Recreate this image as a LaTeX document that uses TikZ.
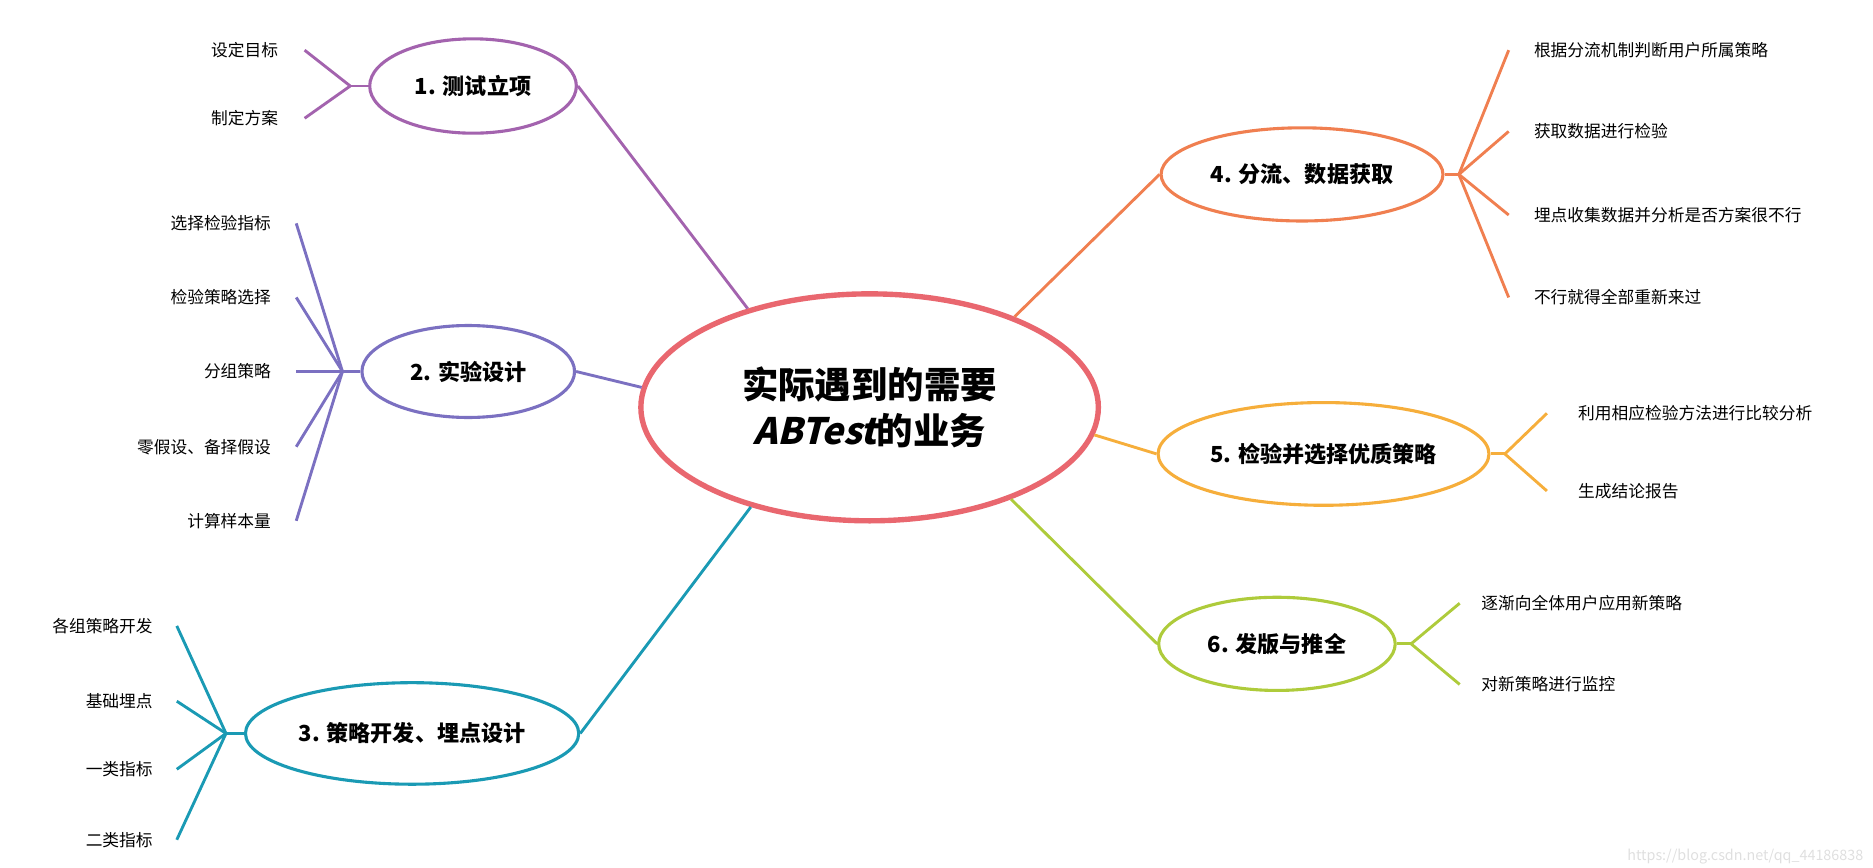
\documentclass[tikz,border=0pt]{standalone}
\usepackage{fontspec}
\setmainfont{Noto Sans CJK SC}
\newfontfamily\slantfont{Noto Sans CJK SC}[FakeSlant=0.25]
\usetikzlibrary{shapes.geometric}

\definecolor{rootred}{HTML}{E9676F}
\definecolor{cpurple}{HTML}{A363AE}
\definecolor{cviolet}{HTML}{7B70C1}
\definecolor{cteal}{HTML}{1A9AB4}
\definecolor{corange}{HTML}{F07F50}
\definecolor{cyellow}{HTML}{F6AE3B}
\definecolor{cgreen}{HTML}{AECB3B}

\tikzset{
  topic/.style={ellipse, draw=#1, line width=2.6pt, fill=white, inner sep=0pt,
    font=\bfseries\fontsize{18.5}{22}\selectfont},
  leaf/.style={inner sep=0pt, font=\fontsize{14}{16}\selectfont},
  branch/.style={draw=#1, line width=2.4pt},
}

\begin{document}
\begin{tikzpicture}[x=1pt,y=-1pt]
  \useasboundingbox (0,0) rectangle (1568,726);

  % centre topic
  \node[ellipse, draw=rootred, line width=4.5pt, fill=white, inner sep=0pt,
    minimum width=383pt, minimum height=190pt, align=center,
    font=\bfseries\fontsize{30.5}{39}\selectfont] (root) at (728,341)
    {实际遇到的需要\\{\slantfont ABTest}的业务};

  % main topics
  \node[topic=cpurple, minimum width=173pt, minimum height=79pt] (t1) at (396,72) {1. 测试立项};
  \node[topic=cviolet, minimum width=178pt, minimum height=77pt] (t2) at (392,311) {2. 实验设计};
  \node[topic=cteal, minimum width=279pt, minimum height=85pt] (t3) at (345,614) {3. 策略开发、埋点设计};
  \node[topic=corange, minimum width=236pt, minimum height=78pt] (t4) at (1090,146) {4. 分流、数据获取};
  \node[topic=cyellow, minimum width=277pt, minimum height=86pt] (t5) at (1108,380) {5. 检验并选择优质策略};
  \node[topic=cgreen, minimum width=198pt, minimum height=78pt] (t6) at (1069,539) {6. 发版与推全};

  % links to the centre
  \draw[branch=cpurple] (t1.east) -- (root.141);
  \draw[branch=cviolet] (t2.east) -- (root.175);
  \draw[branch=cteal] (t3.east) -- (root.220);
  \draw[branch=corange] (root.32) -- (t4.west);
  \draw[branch=cyellow] (root.-7.5) -- (t5.west);
  \draw[branch=cgreen] (root.-33.5) -- (t6.west);

  % hubs
  \draw[branch=cpurple] (t1.west) -- ++(-15,0) coordinate (h1);
  \draw[branch=cviolet] (t2.west) -- ++(-15,0) coordinate (h2);
  \draw[branch=cteal] (t3.west) -- ++(-15,0) coordinate (h3);
  \draw[branch=corange] (t4.east) -- ++(12,0) coordinate (h4);
  \draw[branch=cyellow] (t5.east) -- ++(12,0) coordinate (h5);
  \draw[branch=cgreen] (t6.east) -- ++(12,0) coordinate (h6);

  % leaves on the left
  \foreach \y/\txt [count=\i] in {42/设定目标, 99/制定方案} {
    \node[leaf, anchor=east] (a\i) at (233,\y) {\txt};
    \draw[branch=cpurple] (h1) -- ([xshift=22pt]a\i.east);
  }
  \foreach \y/\txt [count=\i] in {187/选择检验指标, 249/检验策略选择, 311/分组策略,
      374/零假设、备择假设, 436/计算样本量} {
    \node[leaf, anchor=east] (b\i) at (227,\y) {\txt};
    \draw[branch=cviolet] (h2) -- ([xshift=21pt]b\i.east);
  }
  \foreach \y/\txt [count=\i] in {524/各组策略开发, 587/基础埋点, 644/一类指标, 703/二类指标} {
    \node[leaf, anchor=east] (c\i) at (128,\y) {\txt};
    \draw[branch=cteal] (h3) -- ([xshift=20pt]c\i.east);
  }

  % leaves on the right
  \foreach \y/\txt [count=\i] in {42/根据分流机制判断用户所属策略, 110/获取数据进行检验,
      180/埋点收集数据并分析是否方案很不行, 249/不行就得全部重新来过} {
    \node[leaf, anchor=west] (d\i) at (1284,\y) {\txt};
    \draw[branch=corange] (h4) -- ([xshift=-21pt]d\i.west);
  }
  \foreach \y/\txt [count=\i] in {346/利用相应检验方法进行比较分析, 411/生成结论报告} {
    \node[leaf, anchor=west] (e\i) at (1321,\y) {\txt};
    \draw[branch=cyellow] (h5) -- ([xshift=-26pt]e\i.west);
  }
  \foreach \y/\txt [count=\i] in {505/逐渐向全体用户应用新策略, 573/对新策略进行监控} {
    \node[leaf, anchor=west] (f\i) at (1240,\y) {\txt};
    \draw[branch=cgreen] (h6) -- ([xshift=-18pt]f\i.west);
  }

  \node[anchor=east, text=gray!25, inner sep=0pt, font=\fontsize{12}{14}\selectfont]
    (mark) at (1560,717) {https://blog.csdn.net/qq\_44186838};
\end{tikzpicture}
\end{document}
